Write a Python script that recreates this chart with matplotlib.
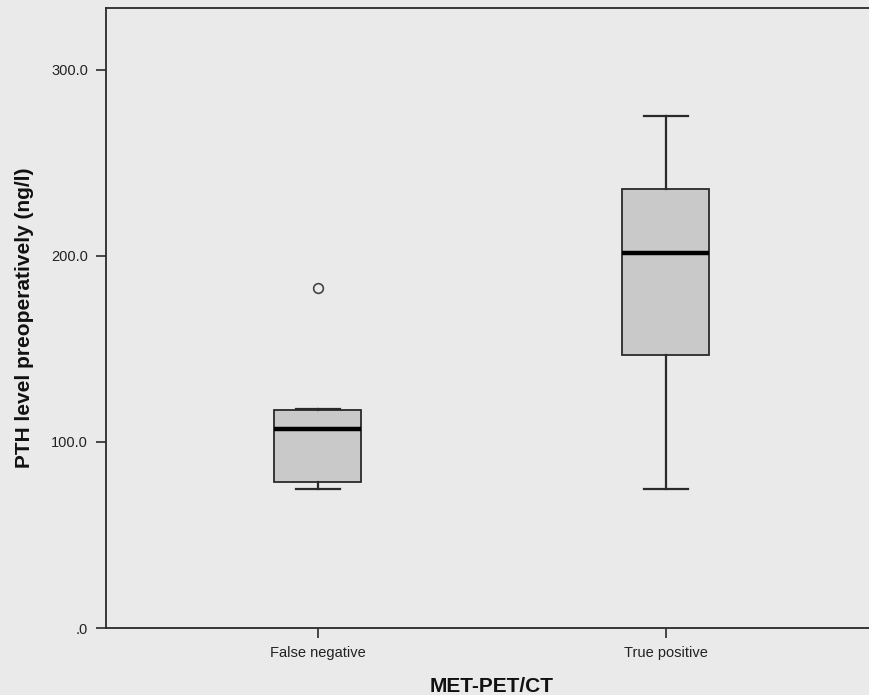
import matplotlib
matplotlib.use("Agg")
import matplotlib.pyplot as plt

categories = ["False negative", "True positive"]
whislo = [74.5, 74.5]
q1 = [78.5, 146.5]
med = [107.0, 201.5]
q3 = [117.0, 236.0]
whishi = [117.5, 275.0]
fliers = [[182.8], []]
yticks = [0, 100, 200, 300]
ytick_labels = [".0", "100.0", "200.0", "300.0"]

plt.rcParams['font.family'] = ['Liberation Sans', 'DejaVu Sans']
bg = "#EAEAEA"
line_c = "#2a2a2a"

fig = plt.figure(figsize=(8.69, 6.95), dpi=100, facecolor=bg)
ax = fig.add_axes([106/869, 67/695, (878-106)/869, 620/695], facecolor=bg)

stats = []
for i, c in enumerate(categories):
    stats.append(dict(label=c, whislo=whislo[i], q1=q1[i], med=med[i],
                      q3=q3[i], whishi=whishi[i], fliers=fliers[i]))

ax.bxp(stats, positions=[1, 2], widths=0.25, capwidths=0.125, patch_artist=True,
       boxprops=dict(facecolor="#C9C9C9", edgecolor=line_c, linewidth=1.3),
       medianprops=dict(color="black", linewidth=3.2, solid_capstyle="butt"),
       whiskerprops=dict(color=line_c, linewidth=1.6),
       capprops=dict(color=line_c, linewidth=1.6),
       flierprops=dict(marker="o", markerfacecolor="none", markeredgecolor="#444444",
                       markersize=7, markeredgewidth=1.2))

ax.set_xlim(1 - 212/348, 2 + 212/348)
ax.set_ylim(0, 333.3)
ax.set_yticks(yticks)
ax.set_yticklabels(ytick_labels)
ax.set_xticks([1, 2])
ax.set_xticklabels(categories)

for s in ["left", "bottom", "top", "right"]:
    ax.spines[s].set_color(line_c)
    ax.spines[s].set_linewidth(1.3)

ax.tick_params(axis="both", length=7, width=1.2, color=line_c, labelsize=10.5,
               labelcolor="#222222", pad=6)

ax.set_xlabel("MET-PET/CT", fontsize=15, fontweight="bold", labelpad=12, color="#111111")
ax.set_ylabel("PTH level preoperatively (ng/l)", fontsize=15, fontweight="bold",
              labelpad=12, color="#111111")

fig.savefig("out.png", dpi=100, facecolor=bg)
